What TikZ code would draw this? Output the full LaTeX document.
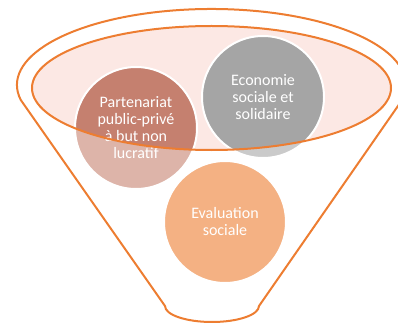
\documentclass[tikz,border=0pt]{standalone}
\usepackage{fontspec}
\setmainfont{Carlito}
\definecolor{orange1}{RGB}{237,125,49}
\definecolor{pink1}{RGB}{252,232,228}
\definecolor{brown1}{RGB}{197,128,111}
\definecolor{brown2}{RGB}{221,180,169}
\definecolor{gray1}{RGB}{165,165,165}
\definecolor{gray2}{RGB}{202,202,202}
\definecolor{peach1}{RGB}{244,177,131}

\begin{document}
\begin{tikzpicture}[x=1pt, y=-1pt, line width=2pt,
  bubble/.style={circle, draw=white, minimum size=122pt, inner sep=0pt, text=white,
    align=center, font=\fontsize{16}{17}\selectfont}]
  \useasboundingbox (0,0) rectangle (398,323);
  \coordinate (ec) at (211.5,88);
  \fill[pink1] (ec) ellipse [x radius=179.5, y radius=62];

  \node[bubble, fill=brown2, path picture={\fill[brown1] (ec) ellipse [x radius=179.5pt, y radius=62pt];}]
    (pp) at (136,128) {Partenariat\\public-privé\\à but non\\lucratif};
  \node[bubble, fill=gray2, path picture={\fill[gray1] (ec) ellipse [x radius=179.5pt, y radius=62pt];}]
    (ess) at (263,97) {Economie\\sociale et\\solidaire};
  \node[bubble, fill=peach1] (es) at (225,222) {Evaluation\\sociale};

  \draw[orange1] (ec) ellipse [x radius=179.5, y radius=62];
  \draw[orange1, line join=round] (20.8,100)
    arc[start angle=168.6, end angle=371.4, x radius=194.5, y radius=76]
    -- (259,306) arc[start angle=0, end angle=180, x radius=47, y radius=16] -- cycle;
\end{tikzpicture}
\end{document}
